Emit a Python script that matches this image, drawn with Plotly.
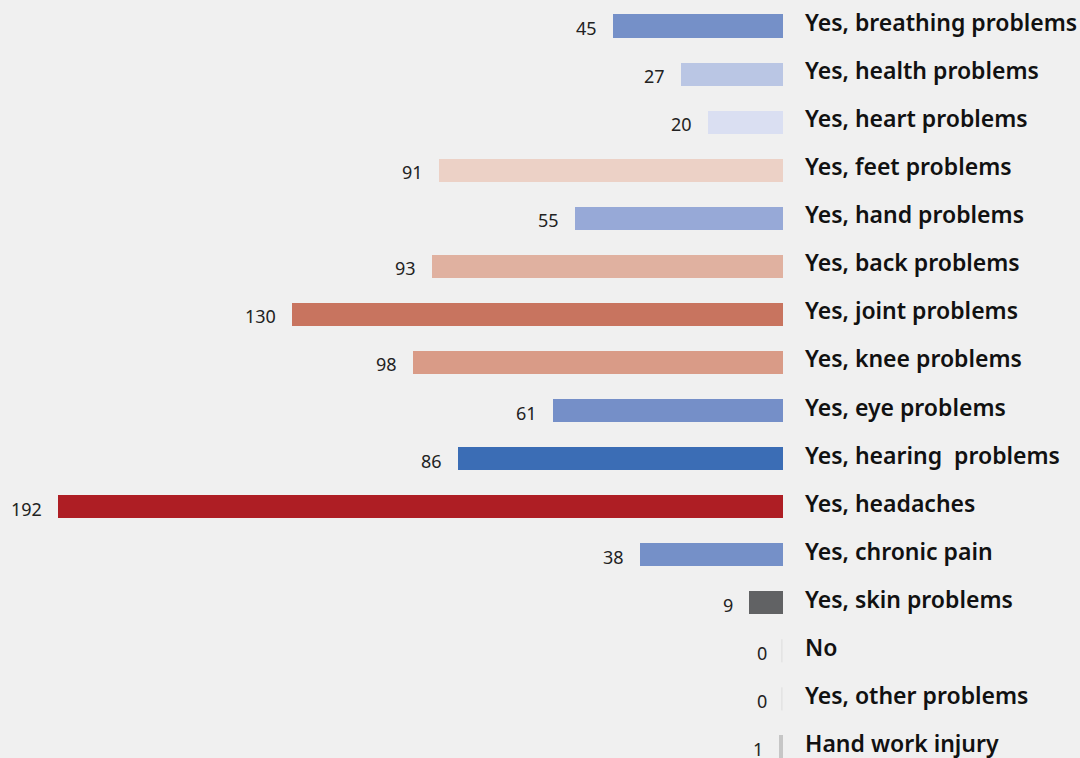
import plotly.graph_objects as go

# Responses, top to bottom
categories = [
    "Yes, breathing problems", "Yes, health problems", "Yes, heart problems",
    "Yes, feet problems", "Yes, hand problems", "Yes, back problems",
    "Yes, joint problems", "Yes, knee problems", "Yes, eye problems",
    "Yes, hearing  problems", "Yes, headaches", "Yes, chronic pain",
    "Yes, skin problems", "No", "Yes, other problems", "Hand work injury",
]
counts = [45, 27, 20, 91, 55, 93, 130, 98, 61, 86, 192, 38, 9, 0, 0, 1]
bar_colors = [
    "#7590c8", "#bac6e4", "#dadff2", "#ecd1c6", "#97a9d7", "#e0b1a0",
    "#c8745f", "#d99b87", "#758fc8", "#3b6db5", "#ae1e24", "#7590c8",
    "#616264", "#dcdcdc", "#dcdcdc", "#c6c6c6",
]

rows = list(range(len(categories)))
bar_width = 0.48

fig = go.Figure()
fig.add_trace(go.Bar(
    x=counts, y=rows, orientation="h",
    marker=dict(color=bar_colors, line=dict(width=0)),
    width=bar_width, hoverinfo="skip",
))

# hairline marker for empty rows
for r, v, c in zip(rows, counts, bar_colors):
    if v == 0:
        fig.add_trace(go.Scatter(
            x=[0.3, 0.3], y=[r - bar_width / 2, r + bar_width / 2],
            mode="lines", line=dict(color=c, width=1),
            hoverinfo="skip", showlegend=False,
        ))

annotations = []
for r, v, name in zip(rows, counts, categories):
    annotations.append(dict(
        x=v, y=r, xref="x", yref="y", text=str(v), showarrow=False,
        xanchor="right", yanchor="middle", xshift=-14, yshift=-2,
        font=dict(family="Noto Sans", size=18, color="#222222"),
    ))
    annotations.append(dict(
        x=0, y=r, xref="x", yref="y", text=name, showarrow=False,
        xanchor="left", yanchor="middle", xshift=20, yshift=4,
        font=dict(family="Noto Sans", size=23, color="#111111", weight=600),
    ))

fig.update_layout(
    width=1080, height=758,
    margin=dict(l=0, r=0, t=0, b=0),
    paper_bgcolor="#f0f0f0", plot_bgcolor="#f0f0f0",
    showlegend=False,
    annotations=annotations,
    bargap=0,
    xaxis=dict(range=[207.4, -78.65], visible=False, fixedrange=True),
    yaxis=dict(range=[15.23, -0.541], visible=False, fixedrange=True),
)

fig.write_html("out.html")
